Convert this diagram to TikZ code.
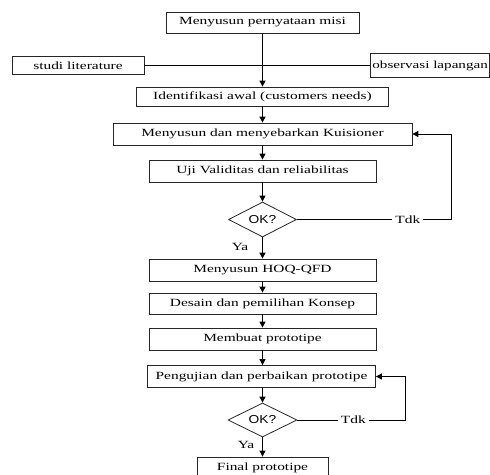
\documentclass[tikz,border=0pt]{standalone}
\usepackage{fontspec}
\setmainfont[FakeStretch=1.4]{Liberation Serif}
\newfontfamily\oksans[FakeStretch=1.2]{Liberation Sans}
\usetikzlibrary{shapes.geometric,arrows.meta}
\tikzset{
  box/.style={draw=black!85, line width=0.8pt, rectangle, inner sep=0pt,
    font=\fontsize{11}{13}\selectfont},
  dec/.style={draw=black!85, line width=0.8pt, diamond, inner sep=0pt, aspect=2,
    font=\oksans\fontsize{11.5}{13}\selectfont},
  arr/.style={line width=0.9pt, -{Triangle[length=6pt,width=6pt]}},
  plain/.style={line width=0.9pt},
  lbl/.style={font=\fontsize{11}{13}\selectfont, inner sep=1.5pt},
  tdk/.style={font=\fontsize{11}{13}\selectfont, fill=white, inner sep=3pt}
}
\begin{document}
\begin{tikzpicture}[x=1pt,y=-1pt]
\useasboundingbox (0,0) rectangle (490,474);
\clip (0,0) rectangle (490,474);
\node[box, minimum width=193pt, minimum height=21pt] (m1) at (262.5,22.5) {Menyusun pernyataan misi};
\node[box, minimum width=132pt, minimum height=18pt] (studi) at (78,65.5) {studi literature};
\node[box, minimum height=24pt, anchor=west, inner xsep=2pt, font=\fontsize{10.8}{13}\selectfont] (obs) at (370,65.5) {observasi lapangan\hspace{20pt}};
\node[box, minimum width=252pt, minimum height=19pt] (ident) at (262.5,96.5) {Identifikasi awal (customers needs)};
\node[box, minimum width=299pt, minimum height=22pt] (kuis) at (262.5,134) {Menyusun dan menyebarkan Kuisioner};
\node[box, minimum width=227pt, minimum height=22pt] (uji) at (262.5,171) {Uji Validitas dan reliabilitas};
\node[dec, minimum width=68pt, minimum height=35pt] (d1) at (262.5,219.5) {OK?};
\node[box, minimum width=227pt, minimum height=22pt] (hoq) at (262.5,270) {Menyusun HOQ-QFD};
\node[box, minimum width=227pt, minimum height=21pt] (desain) at (262.5,303.5) {Desain dan pemilihan Konsep};
\node[box, minimum width=227pt, minimum height=22pt] (buat) at (262.5,339) {Membuat prototipe};
\node[box, minimum width=228pt, minimum height=22pt] (uji2) at (261.5,376.5) {Pengujian dan perbaikan prototipe};
\node[dec, minimum width=69pt, minimum height=34pt] (d2) at (262.5,420) {OK?};
\node[box, minimum width=131pt, minimum height=22pt] (final) at (262.5,468) {Final prototipe};
\node[lbl] (ya1) at (240,247) {Ya};
\node[lbl] (ya2) at (246,445) {Ya};
\coordinate (r1) at (451,219.5);
\coordinate (r2) at (405,420);
% main flow
\draw[plain] (studi.east) -- (obs.west);
\draw[arr] (m1.south) -- (m1.south |- ident.north);
\draw[arr] (ident.south) -- (ident.south |- kuis.north);
\draw[arr] (kuis.south) -- (kuis.south |- uji.north);
\draw[arr] (uji.south) -- (uji.south |- d1.north);
\draw[arr] (d1.south) -- (d1.south |- hoq.north);
\draw[arr] (hoq.south) -- (hoq.south |- desain.north);
\draw[arr] (desain.south) -- (desain.south |- buat.north);
\draw[arr] (buat.south) -- (buat.south |- uji2.north);
\draw[arr] (uji2.south -| d2.north) -- (d2.north);
\draw[arr] (d2.south) -- (d2.south |- final.north);
% loops
\draw[arr] (d1.east) -- node[tdk, pos=0.72] (t1) {Tdk} (r1) |- (kuis.east);
\draw[arr] (d2.east) -- node[tdk, pos=0.52] (t2) {Tdk} (r2) |- (uji2.east);
\end{tikzpicture}
\end{document}
